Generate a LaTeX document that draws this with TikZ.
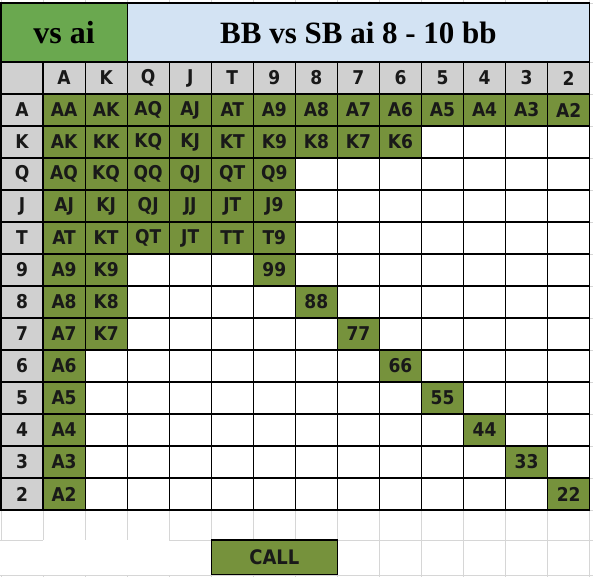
\documentclass[tikz,border=0pt]{standalone}
\usepackage{fontspec}
\setmainfont{Liberation Serif}
\newfontfamily\cellfont{DejaVu Sans Condensed}
\definecolor{rangegreen}{HTML}{76923C}
\definecolor{titlegreen}{HTML}{6AA84F}
\definecolor{titleblue}{HTML}{D3E3F3}
\definecolor{hdrgrey}{HTML}{D0D0D0}
\definecolor{faintgrid}{HTML}{D6D6D6}
\tikzset{
  cellbox/.style={draw=black, line width=1.2pt, minimum width=42.05pt, minimum height=32pt,
    inner sep=0pt, outer sep=0pt, font=\cellfont\bfseries\fontsize{19}{20}\selectfont, text=black!90},
  incell/.style={cellbox, fill=rangegreen},
  outcell/.style={cellbox, fill=white},
  hdrcell/.style={cellbox, fill=hdrgrey},
  titlebox/.style={draw=black, line width=1.2pt, inner sep=0pt, outer sep=0pt, minimum height=59pt},
  callbox/.style={draw=black, line width=1.2pt, fill=rangegreen, inner sep=0pt, outer sep=0pt,
    minimum width=126.15pt, minimum height=34.5pt, font=\cellfont\bfseries\fontsize{20}{21}\selectfont, text=black!90},
  faint/.style={draw=faintgrid, line width=0.8pt}
}
\begin{document}
\begin{tikzpicture}[x=1pt,y=-1pt]
\useasboundingbox (0,0) rectangle (593,577);
\fill[white] (0,0) rectangle (593,577);
\def\W{42.05}
\def\H{32}
% faint spreadsheet grid outside the table
\foreach \k in {0,...,14}{
  \draw[faint] ({1+\k*\W},0) -- ({1+\k*\W},3);
  \draw[faint] ({1+\k*\W},510) -- ({1+\k*\W},540);
  \draw[faint] ({1+\k*\W},575) -- ({1+\k*\W},577);
}
\foreach \k in {8,...,14}{
  \draw[faint] ({1+\k*\W},540) -- ({1+\k*\W},575);
}
\draw[faint] (0,540) -- (43,540);
\draw[faint] (169,540) -- (212,540);
\draw[faint] (337,540) -- (593,540);
\draw[faint] (0,575) -- (593,575);
\foreach \r in {0,...,13}{
  \draw[faint] (589,{94+\r*\H}) -- (593,{94+\r*\H});
}
\draw[faint] (589,62) -- (593,62);
\draw[faint] (589,3) -- (593,3);
% rank names
\foreach \r [count=\n from 0] in {A,K,Q,J,T,9,8,7,6,5,4,3,2}{
  \expandafter\xdef\csname rk\n\endcsname{\r}
}
% title row
\node[titlebox, fill=titlegreen, minimum width=126.15pt, font=\bfseries\fontsize{32}{34}\selectfont]
  (vsai) at ({1+1.5*\W},32.5) {vs ai};
\node[titlebox, fill=titleblue, minimum width=462.55pt, font=\bfseries\fontsize{31}{33}\selectfont]
  (title) at ({1+3*\W+5.5*\W},32.5) {BB vs SB ai 8 - 10 bb};
% header row
\node[hdrcell] (corner) at ({1+0.5*\W},78) {};
\foreach \j in {0,...,12}{
  \node[hdrcell] (hdr-\j) at ({1+(\j+1.5)*\W},78) {\csname rk\j\endcsname};
}
% row labels
\foreach \i in {0,...,12}{
  \node[hdrcell] (row-\i) at ({1+0.5*\W},{94+(\i+0.5)*\H}) {\csname rk\i\endcsname};
}
% cells
\foreach \i in {0,...,12}{
  \foreach \j in {0,...,12}{
    \pgfmathtruncatemacro\g{((\i==0) || (\j==0) || (\i==\j) || (\i==1 && \j<=8) || (\j==1 && \i<=7) || (\i>=2 && \i<=4 && \j<=5)) ? 1 : 0}
    \ifnum\i>\j
      \edef\lab{\csname rk\j\endcsname\csname rk\i\endcsname}
    \else
      \edef\lab{\csname rk\i\endcsname\csname rk\j\endcsname}
    \fi
    \ifnum\g=1
      \node[incell] (cell-\i-\j) at ({1+(\j+1.5)*\W},{94+(\i+0.5)*\H}) {\lab};
    \else
      \node[outcell] (cell-\i-\j) at ({1+(\j+1.5)*\W},{94+(\i+0.5)*\H}) {};
    \fi
  }
}
% call box
\node[callbox] (call) at ({1+6.5*\W},557.25) {CALL};
\end{tikzpicture}
\end{document}
